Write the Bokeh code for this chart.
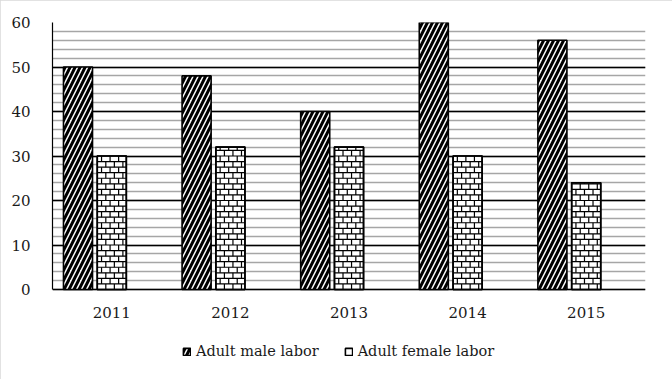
import numpy as np
from bokeh.plotting import figure
from bokeh.models import (SingleIntervalTicker, Legend, LegendItem,
                          ColumnDataSource)
from bokeh.core.properties import value
from bokeh.embed import file_html
from bokeh.resources import INLINE

# ---- data ----
years = ["2011", "2012", "2013", "2014", "2015"]
male = [50, 48, 40, 60, 56]
female = [30, 32, 32, 30, 24]
series_names = ["Adult male labor", "Adult female labor"]
y_max = 60

idx = np.arange(len(years))
male_off, female_off, bar_w = -0.285, 0.0, 0.245

src = ColumnDataSource(dict(xm=idx + male_off, xf=idx + female_off,
                            male=male, female=female))

# layout (pixels)
W, H = 672, 379
top_b, left_b, right_b, bottom_b = 22, 52, 27, 4
zero_px = 289  # where value 0 sits
px_per_unit = (zero_px - top_b) / y_max
y_min = -(H - bottom_b - zero_px) / px_per_unit

p = figure(x_range=(-0.5, len(years) - 0.5), y_range=(y_min, y_max),
           width=W, height=H, output_backend="svg", toolbar_location=None,
           x_axis_location=None,
           min_border_left=left_b, min_border_right=right_b,
           min_border_top=top_b, min_border_bottom=bottom_b)
p.outline_line_color = None
p.styles = {"outline": "1px solid #d9d9d9", "outline-offset": "-1px"}

r1 = p.vbar(x="xm", top="male", width=bar_w, source=src,
            fill_color="white", line_color="black", line_width=1.6,
            hatch_pattern="/", hatch_color="black", hatch_scale=10, hatch_weight=3)
r2 = p.vbar(x="xf", top="female", width=bar_w, source=src,
            fill_color="white", line_color="black", line_width=1.6)

# brick texture for female bars, derived from bar geometry
row_h, brick_w = 1.25, 0.072
bx0, by0, bx1, by1 = [], [], [], []
for xc, top in zip(idx + female_off, female):
    left, right = xc - bar_w / 2, xc + bar_w / 2
    k = 0
    y = 0.0
    while y < top - 1e-9:
        y_next = min(y + row_h, top)
        if y > 0:
            bx0.append(left); bx1.append(right); by0.append(y); by1.append(y)
        xv = left + (brick_w / 2 if k % 2 else brick_w)
        while xv < right - 0.01:
            bx0.append(xv); bx1.append(xv); by0.append(y); by1.append(y_next)
            xv += brick_w
        y = y_next
        k += 1
p.segment(x0=bx0, y0=by0, x1=bx1, y1=by1, line_color="black", line_width=1.2)
p.vbar(x="xf", top="female", width=bar_w, source=src,
       fill_color=None, line_color="black", line_width=1.6)

# x category labels
p.text(x=idx, y=[0] * len(years), text=years, y_offset=23,
       text_align="center", text_baseline="middle",
       text_font=value("DejaVu Serif"), text_font_size="15px", text_color="#1a1a1a")

# y axis
p.yaxis.ticker = SingleIntervalTicker(interval=10, num_minor_ticks=5)
p.yaxis.bounds = (0, y_max)
p.yaxis.major_tick_line_color = None
p.yaxis.minor_tick_line_color = None
p.yaxis.axis_line_color = "black"
p.yaxis.axis_line_width = 1.2
p.yaxis.major_label_standoff = 16
p.yaxis.major_label_text_font = "DejaVu Serif"
p.yaxis.major_label_text_font_size = "15px"
p.yaxis.major_label_text_color = "#1a1a1a"

p.xgrid.grid_line_color = None
p.ygrid.bounds = (0, y_max)
p.ygrid.grid_line_color = "black"
p.ygrid.grid_line_width = 1.4
p.ygrid.minor_grid_line_color = "#a6a6a6"
p.ygrid.minor_grid_line_width = 1.4

legend = Legend(items=[LegendItem(label=series_names[0], renderers=[r1]),
                       LegendItem(label=series_names[1], renderers=[r2])],
                orientation="horizontal", location=(130, 16),
                label_text_font="DejaVu Serif", label_text_font_size="14.5px",
                label_text_color="#1a1a1a",
                glyph_width=9, glyph_height=9, label_standoff=5, spacing=25,
                padding=0, margin=0, border_line_color=None,
                background_fill_alpha=0)
p.add_layout(legend, "center")

open("out.html", "w").write(file_html(p, INLINE))
